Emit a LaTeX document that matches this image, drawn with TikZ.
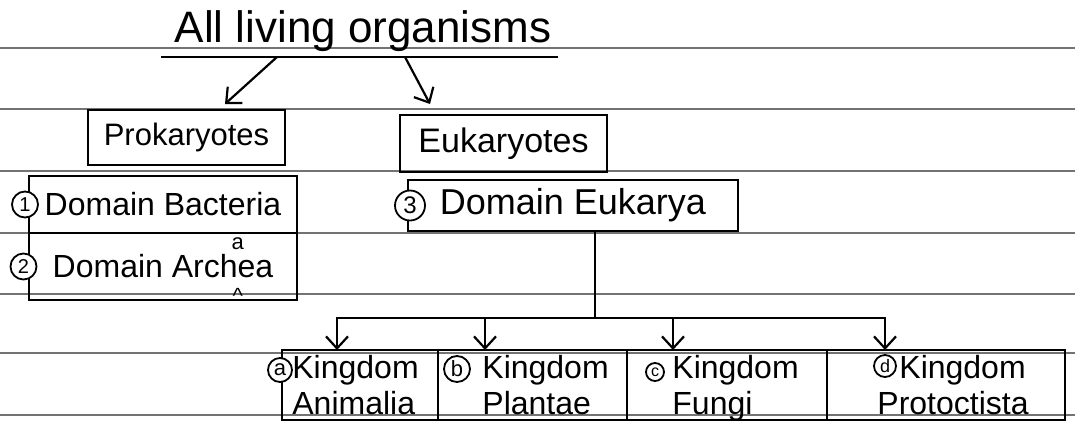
\documentclass[tikz,border=0pt]{standalone}
\usepackage{fontspec}
\setmainfont{Liberation Sans}
\usetikzlibrary{arrows.meta,positioning}

\newcommand{\insertedletter}[1]{%
  \makebox[0pt]{\smash{\raisebox{14pt}{\fontsize{11}{11}\selectfont #1}}}%
  \makebox[0pt]{\smash{\raisebox{-13pt}{\fontsize{11}{11}\selectfont\textasciicircum}}}}

\begin{document}
\begin{tikzpicture}[
  x=0.5pt, y=-0.5pt,
  rule/.style={draw=black!55, line width=0.6pt},
  box/.style={draw, line width=1.1pt, outer sep=0pt, inner sep=2pt,
              font=\fontsize{16}{19}\selectfont},
  kbox/.style={draw, line width=1.1pt, outer sep=0pt, minimum height=35pt},
  ktext/.style={anchor=north west, align=left, inner sep=0pt,
                font=\fontsize{16}{18}\selectfont},
  numc/.style={circle, draw, line width=0.9pt, fill=white, inner sep=0pt,
               minimum size=#1, font=\fontsize{10}{10}\selectfont},
  numc/.default=13pt,
  ar/.style={-{Straight Barb[length=6pt,width=11pt]}, line width=1.1pt},
  ln/.style={line width=1.1pt}
]
\useasboundingbox (0,0) rectangle (1075,424);
\foreach \y in {48,109,171,233,294,353,415}
  \draw[rule] (0,\y) -- (1075,\y);

\node[anchor=south, inner xsep=3pt, inner ysep=2.5pt,
      font=\fontsize{22}{26}\selectfont] (title) at (363,57) {All living organisms};
\draw[ln] ([xshift=-3.5pt]title.south west) -- (title.south east);

\node[box, minimum width=98.5pt, minimum height=27.5pt,
      font=\fontsize{15.5}{18}\selectfont] (pro) at (186.5,137.5) {Prokaryotes};
\node[box, minimum width=103.5pt, minimum height=28.5pt,
      font=\fontsize{17}{20}\selectfont] (euk) at (503.5,143.5) {Eukaryotes};

\node[box, minimum width=134pt, minimum height=28.5pt] (bac) at (163,204.5) {Domain Bacteria};
\node[box, minimum width=134pt, minimum height=33.5pt, below=0pt of bac] (arc)
  {Domain Arch\insertedletter{a}ea};
\node[box, minimum width=165pt, minimum height=25.5pt,
      font=\fontsize{18}{21}\selectfont] (eky) at (573,205.5) {Domain Eukarya};

\node[kbox, minimum width=78pt, anchor=north west] (ka) at (282,350) {};
\node[kbox, minimum width=94.5pt, right=0pt of ka] (kb) {};
\node[kbox, minimum width=100pt, right=0pt of kb] (kc) {};
\node[kbox, minimum width=119pt, right=0pt of kc] (kd) {};

\node[numc] (n1) at ([xshift=-2pt]bac.west) {1};
\node[numc] (n2) at ([xshift=-2.75pt]arc.west) {2};
\node[numc=15pt, font=\fontsize{12}{12}\selectfont] (n3) at ([xshift=1pt]eky.west) {3};
\node[numc=12pt, font=\fontsize{11}{11}\selectfont] (na) at ([xshift=-1pt,yshift=-10pt]ka.north west) {a};
\node[numc, font=\fontsize{11}{11}\selectfont] (nb) at ([xshift=9.5pt,yshift=-9.5pt]kb.north west) {b};
\node[numc=9pt, font=\fontsize{8}{8}\selectfont] (nc) at ([xshift=14pt,yshift=-11pt]kc.north west) {c};
\node[numc=11pt, font=\fontsize{9}{9}\selectfont] (nd) at ([xshift=29pt,yshift=-8pt]kd.north west) {d};

\node[ktext] (ta) at ([xshift=5pt,yshift=-2.5pt]ka.north west) {Kingdom\\Animalia};
\node[ktext] (tb) at ([xshift=22pt,yshift=-2.5pt]kb.north west) {Kingdom\\Plantae};
\node[ktext] (tc) at ([xshift=22.5pt,yshift=-2.5pt]kc.north west) {Kingdom\\Fungi};
\node[ktext] (td) at ([xshift=25pt,yshift=-2.5pt]kd.north west) {\hspace*{11pt}Kingdom\\Protoctista};

\draw[ar] ([xshift=-43pt]title.south) -- ([xshift=19.25pt,yshift=3pt]pro.north);
\draw[ar] ([xshift=21pt]title.south) -- ([xshift=-36.75pt,yshift=5.5pt]euk.north);
\draw[ln] ([xshift=11pt]eky.south) -- ++(0,87) coordinate (split);
\draw[ar] (split) -| ([xshift=-11.5pt]ka.north);
\draw[ar] (split) -| ([xshift=-23.75pt]kb.north);
\draw[ar] (split) -| ([xshift=-27pt]kc.north);
\draw[ar] (split) -| ([xshift=-30.5pt]kd.north);
\end{tikzpicture}
\end{document}
